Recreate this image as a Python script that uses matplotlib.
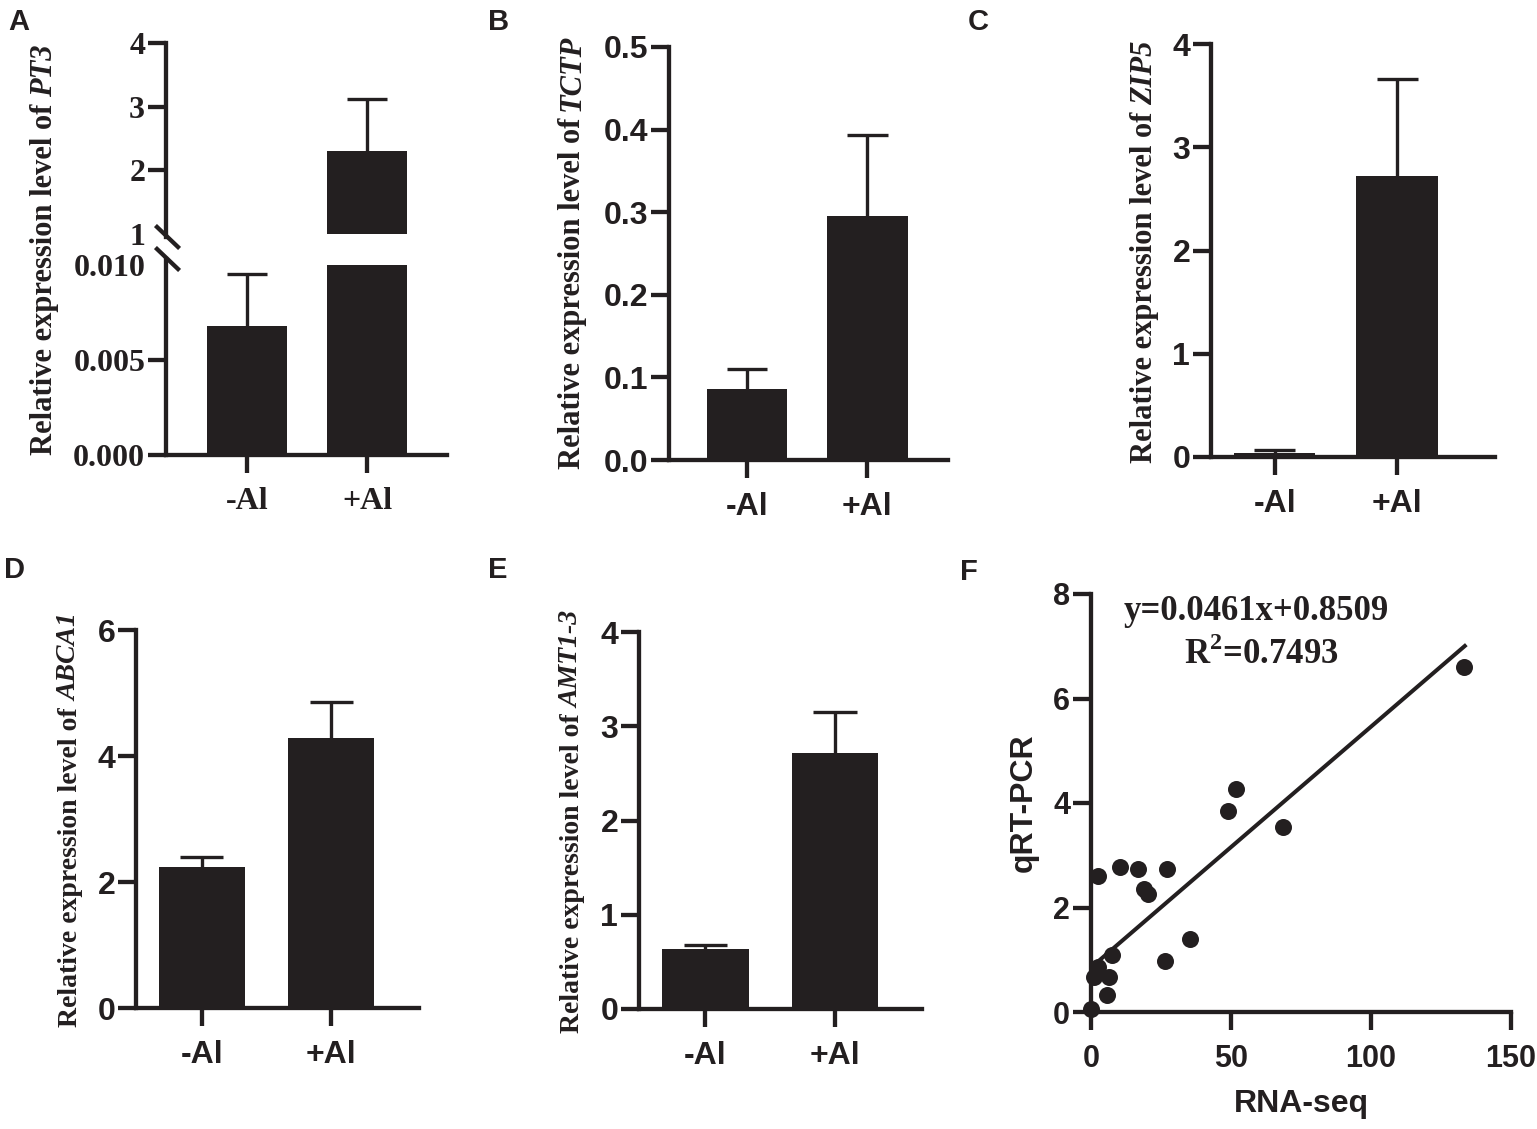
import matplotlib
matplotlib.use("Agg")
import matplotlib.pyplot as plt

W, H = 1537, 1129
INK = "#231f20"

plt.rcParams["mathtext.fontset"] = "custom"
plt.rcParams["mathtext.rm"] = "Liberation Serif:bold"
plt.rcParams["mathtext.bf"] = "Liberation Serif:bold"

groups = ["-Al", "+Al"]

# bar panels: mean and upper error (top of whisker)
pt3_mean = [0.0068, 2.30]
pt3_top = [0.0095, 3.12]
tctp_mean = [0.086, 0.296]
tctp_top = [0.110, 0.394]
zip5_mean = [0.04, 2.72]
zip5_top = [0.065, 3.66]
abca1_mean = [2.24, 4.28]
abca1_top = [2.39, 4.85]
amt13_mean = [0.64, 2.72]
amt13_top = [0.68, 3.15]

# correlation panel
rna_seq = [133.3, 51.9, 48.9, 68.5, 2.4, 10.2, 16.7, 27.1, 18.8, 20.5,
           35.5, 26.5, 7.5, 2.4, 1.2, 6.6, 5.6, 0.0]
qrt_pcr = [6.61, 4.27, 3.84, 3.55, 2.60, 2.78, 2.73, 2.73, 2.35, 2.26,
           1.40, 0.97, 1.09, 0.87, 0.67, 0.67, 0.32, 0.06]
slope, intercept = 0.0461, 0.8509
fit_x = [0, 133.5]

fig = plt.figure(figsize=(W / 100, H / 100), dpi=100)
renderer = fig.canvas.get_renderer()


def ax_px(left, top, right, bottom):
    return fig.add_axes([left / W, 1 - bottom / H, (right - left) / W, (bottom - top) / H])


def style(ax, family, size=23, bottom=True):
    for s in ["top", "right"]:
        ax.spines[s].set_visible(False)
    for s in ["left", "bottom"]:
        ax.spines[s].set_linewidth(3.1)
        ax.spines[s].set_color(INK)
    if not bottom:
        ax.spines["bottom"].set_visible(False)
        ax.tick_params(axis="x", bottom=False, labelbottom=False)
    ax.tick_params(width=3.1, length=13, color=INK, labelcolor=INK, labelsize=size)
    ax.tick_params(axis="y", pad=2)
    ax.tick_params(axis="x", pad=10)
    for lab in ax.get_xticklabels() + ax.get_yticklabels():
        lab.set_family(family)
        lab.set_weight("bold")


def whiskers(ax, x, mean, top, half=0.167):
    ax.vlines(x, mean, top, color=INK, lw=2.4, zorder=1)
    ax.hlines(top, [v - half for v in x], [v + half for v in x], color=INK, lw=2.4, zorder=1)


def bars(ax, mean, top, shown=None):
    x = list(range(len(mean)))
    h = mean if shown is None else shown
    ax.bar(x, h, width=0.667, color=INK, zorder=2)
    whiskers(ax, x, mean, top)


def ylab(xc, yc, gene, size=22):
    # plain part + bold italic gene name, stacked along the rotated baseline
    kw = dict(rotation=90, rotation_mode="anchor", ha="left", va="baseline",
              fontsize=size, family="Liberation Serif", weight="bold", color=INK)
    t1 = fig.text(0, 0, "Relative expression level of", **kw)
    t2 = fig.text(0, 0, gene, style="italic", **kw)
    w1 = t1.get_window_extent(renderer).height
    w2 = t2.get_window_extent(renderer).height
    gap = size * 0.3
    total = w1 + gap + w2
    xb = xc + size * 0.33
    y0 = (H - yc) - total / 2
    t1.set_position((xb / W, y0 / H))
    t2.set_position((xb / W, (y0 + w1 + gap) / H))


def letter(x, y, s):
    fig.text(x / W, 1 - y / H, s, ha="left", va="top", fontsize=21,
             family="Liberation Sans", weight="bold", color=INK)


# A: broken axis
axA_top = ax_px(166, 43, 447, 237)
axA_bot = ax_px(166, 259, 447, 455)
lower_cap = 0.010
low_vals = [min(v, lower_cap) for v in pt3_mean]
axA_bot.bar(range(2), low_vals, width=0.667, color=INK, zorder=2)
whiskers(axA_bot, [0], [pt3_mean[0]], [pt3_top[0]])
axA_top.bar(range(2), [max(v - 1, 0) for v in pt3_mean], bottom=1, width=0.667, color=INK, zorder=2)
whiskers(axA_top, [1], [pt3_mean[1]], [pt3_top[1]])
axA_bot.set_ylim(0, 0.0103)
axA_bot.set_yticks([0, 0.005, 0.010])
axA_bot.set_yticklabels(["0.000", "0.005", "0.010"])
axA_top.set_ylim(0.95, 4)
axA_top.set_yticks([1, 2, 3, 4])
axA_top.set_yticklabels(["1", "2", "3", "4"])
for a in (axA_top, axA_bot):
    a.set_xlim(-0.675, 1.667)
axA_bot.set_xticks(range(2))
axA_bot.set_xticklabels(groups)
style(axA_bot, "Liberation Serif")
style(axA_top, "Liberation Serif", bottom=False)
axA_top.yaxis.get_major_ticks()[0].tick1line.set_visible(False)
axA_bot.yaxis.get_major_ticks()[2].tick1line.set_visible(False)
# break marks
for a, hpx, y0 in ((axA_top, 194, 0), (axA_bot, 196, 1)):
    a.plot([-9 / 281, 12 / 281], [y0 + 10 / hpx, y0 - 10 / hpx], transform=a.transAxes,
           color=INK, lw=3.1, clip_on=False)
ylab(45, 250, "PT3")
letter(8, 8, "A")

# B
axB = ax_px(669, 47, 948, 460)
bars(axB, tctp_mean, tctp_top)
axB.set_xlim(-0.65, 1.67)
axB.set_ylim(0, 0.5)
axB.set_yticks([0, 0.1, 0.2, 0.3, 0.4, 0.5])
axB.set_xticks(range(2))
axB.set_xticklabels(groups)
style(axB, "Liberation Sans")
ylab(573, 252, "TCTP")
letter(488, 8, "B")

# C
axC = ax_px(1211, 44, 1495, 457)
bars(axC, zip5_mean, zip5_top)
axC.set_xlim(-0.52, 1.8)
axC.set_ylim(0, 4)
axC.set_yticks([0, 1, 2, 3, 4])
axC.set_xticks(range(2))
axC.set_xticklabels(groups)
style(axC, "Liberation Sans")
ylab(1145, 252, "ZIP5")
letter(968, 8, "C")

# D
axD = ax_px(136, 630, 419, 1008)
bars(axD, abca1_mean, abca1_top)
axD.set_xlim(-0.51, 1.68)
axD.set_ylim(0, 6)
axD.set_yticks([0, 2, 4, 6])
axD.set_xticks(range(2))
axD.set_xticklabels(groups)
style(axD, "Liberation Sans")
ylab(70, 820, "ABCA1", size=20)
letter(4, 556, "D")

# E
axE = ax_px(639, 632, 922, 1009)
bars(axE, amt13_mean, amt13_top)
axE.set_xlim(-0.51, 1.67)
axE.set_ylim(0, 4)
axE.set_yticks([0, 1, 2, 3, 4])
axE.set_xticks(range(2))
axE.set_xticklabels(groups)
style(axE, "Liberation Sans")
ylab(572, 822, "AMT1-3", size=20)
letter(488, 556, "E")

# F
axF = ax_px(1091, 594, 1511, 1012)
axF.scatter(rna_seq, qrt_pcr, s=150, color=INK, zorder=3, clip_on=False, linewidths=0)
axF.plot(fit_x, [slope * v + intercept for v in fit_x], color=INK, lw=2.9, zorder=2)
axF.set_xlim(0, 150)
axF.set_ylim(0, 8)
axF.set_xticks([0, 50, 100, 150])
axF.set_yticks([0, 2, 4, 6, 8])
style(axF, "Liberation Sans", size=22)
axF.set_xlabel("RNA-seq", family="Liberation Sans", weight="bold", fontsize=23, color=INK, labelpad=11)
axF.set_ylabel("qRT-PCR", family="Liberation Sans", weight="bold", fontsize=23, color=INK, labelpad=10)
axF.text(0.393, 0.957, f"y={slope}x+{intercept}", transform=axF.transAxes, ha="center", va="center",
         family="Liberation Serif", weight="bold", fontsize=25, color=INK)
axF.text(0.405, 0.854, r"R$^{2}$=0.7493", transform=axF.transAxes, ha="center", va="center",
         family="Liberation Serif", weight="bold", fontsize=25, color=INK)
letter(960, 558, "F")

fig.savefig("out.png", dpi=100)
print("saved")
